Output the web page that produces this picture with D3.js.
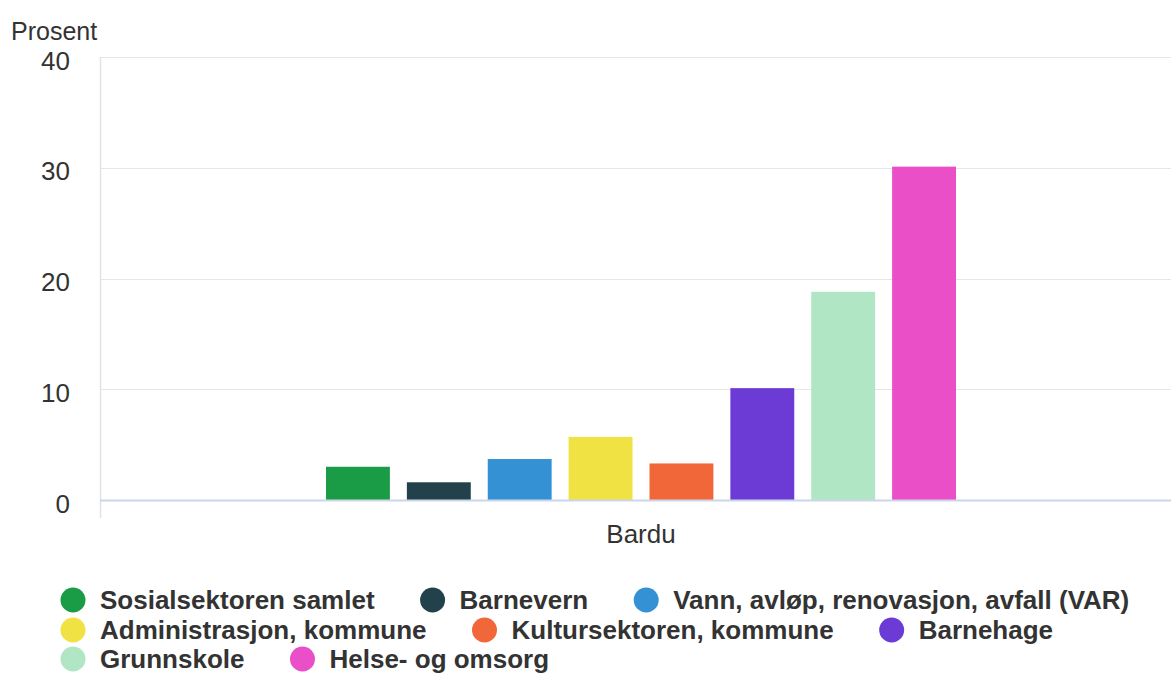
<!DOCTYPE html>
<html><head><meta charset="utf-8">
<script src="https://cdn.jsdelivr.net/npm/d3@7"></script>
<style>body{margin:0;background:#fff;}svg{display:block;font-family:"Liberation Sans",Arial,sans-serif;}</style>
</head><body>
<svg id="c" width="1171" height="673"></svg>
<script>
const categories = ["Bardu"];
const seriesNames = ["Sosialsektoren samlet","Barnevern","Vann, avløp, renovasjon, avfall (VAR)","Administrasjon, kommune","Kultursektoren, kommune","Barnehage","Grunnskole","Helse- og omsorg"];
const seriesValues = [3.0, 1.6, 3.7, 5.7, 3.3, 10.1, 18.8, 30.1];
const seriesColors = ["#1a9c47","#23414a","#3492d4","#f0e242","#f26739","#6c3bd5","#b0e6c4","#ea4fc8"];
const yTicks = [0,10,20,30,40];
const yLabel = "Prosent";

(function(){
const FONT = '"Liberation Sans",Arial,sans-serif';
const svg = d3.select("#c");
const pLeft = 100, pRight = 1182, pTop = 57, pBottom = 500;
const y = d3.scaleLinear().domain([0,40]).range([pBottom, pTop]);
const x0 = d3.scaleBand().domain(categories).range([pLeft, pRight]);
const x1 = d3.scaleBand().domain(seriesNames)
  .range([x0(categories[0]) + 226, x0(categories[0]) + x0.bandwidth() - 226])
  .paddingInner(0.21).paddingOuter(0);

// gridlines
svg.append("g").selectAll("line").data(yTicks.filter(d=>d>0)).join("line")
  .attr("x1", pLeft).attr("x2", 1171).attr("y1", d=>Math.round(y(d))+0.5).attr("y2", d=>Math.round(y(d))+0.5)
  .attr("stroke", "#e6e6e6").attr("stroke-width", 1);

// y axis labels
const yAxis = d3.axisLeft(y).tickValues(yTicks).tickSize(0).tickPadding(0);
const yg = svg.append("g").attr("transform", `translate(70,3)`).call(yAxis);
yg.select(".domain").remove();
yg.selectAll("text").attr("font-size", 26).attr("fill", "#333").attr("font-family", FONT).attr("dy", "0.35em");

// left vertical line
svg.append("line").attr("x1", pLeft+0.5).attr("x2", pLeft+0.5).attr("y1", pTop).attr("y2", 518)
  .attr("stroke", "#dfe3ea").attr("stroke-width", 1.5);

svg.append("text").attr("x", 11).attr("y", 40).attr("font-size", 25).attr("fill", "#333").attr("font-family", FONT).text(yLabel);

// bars
svg.append("g").selectAll("rect").data(seriesNames.map((n,i)=>({n, v:seriesValues[i], c:seriesColors[i]}))).join("rect")
  .attr("x", d=>x1(d.n)).attr("width", x1.bandwidth())
  .attr("y", d=>y(d.v)).attr("height", d=>pBottom - y(d.v))
  .attr("fill", d=>d.c);

// x axis
const xAxis = d3.axisBottom(x0).tickSize(0).tickPadding(0);
const xg = svg.append("g").attr("transform", `translate(0,${pBottom})`).call(xAxis);
xg.select(".domain").remove();
xg.selectAll("text").attr("font-size", 26).attr("fill", "#333").attr("font-family", FONT).attr("dy", null).attr("y", 43);
svg.append("line").attr("x1", pLeft).attr("x2", 1171).attr("y1", pBottom+0.5).attr("y2", pBottom+0.5).attr("stroke", "#ccd6eb").attr("stroke-width", 2);

// legend
const rows = [[0,1,2],[3,4,5],[6,7]];
const rowY = [600, 630, 659];
const lg = svg.append("g");
rows.forEach((r, ri) => {
  let cx = 73;
  r.forEach(i => {
    lg.append("circle").attr("cx", cx).attr("cy", rowY[ri]).attr("r", 12.5).attr("fill", seriesColors[i]);
    const t = lg.append("text").attr("x", cx + 27).attr("y", rowY[ri]).attr("dy", "0.36em")
      .attr("font-size", 26).attr("font-weight", "bold").attr("fill", "#333").attr("font-family", FONT).text(seriesNames[i]);
    const w = t.node().getComputedTextLength();
    cx = cx + 27 + w + 58;
  });
});
})();
</script>
</body></html>
